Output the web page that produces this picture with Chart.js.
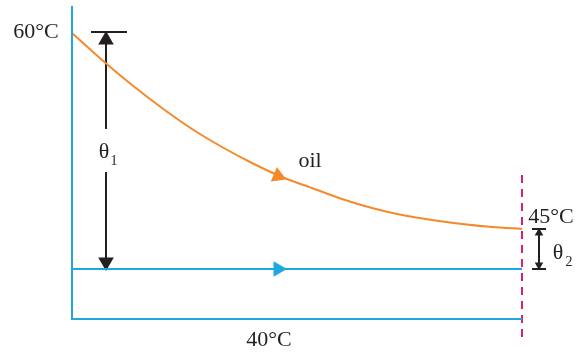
<!DOCTYPE html>
<html>
<head>
<meta charset="utf-8">
<script src="https://cdn.jsdelivr.net/npm/chart.js@4"></script>
<style>
  html, body { margin: 0; padding: 0; background: #fff; }
  #wrap { width: 579px; height: 354px; }
</style>
</head>
<body>
<div id="wrap"><canvas id="diagram" width="579" height="354"></canvas></div>
<script>
// oil temperature profile along the exchanger (schematic units)
const oilX = [0, 30, 60, 90, 120, 150, 180, 210, 240, 270, 300, 330, 360, 390, 420, 450];
const oilY = [286, 259, 234, 211, 190, 172, 156, 142, 131, 120, 111, 104, 99, 95, 92, 90];

// water line (40°C) and the two ends
const waterY = 50;
const exchangerLength = 450;
const hotIn = 286;   // 60°C
const hotOut = 90;   // 45°C

// labels
const labels = ["60°C", "45°C", "40°C", "oil"];

const blue = "#1ea7e1";
const orange = "#f5892b";
const pink = "#d81f7a";
const black = "#231f20";

function pts(xs, ys) {
    return xs.map((x, i) => ({ x: x, y: ys[i] }));
}

// small helper for plain line segments
function seg(points, color, width, extra) {
    return Object.assign({
        data: points,
        borderColor: color,
        backgroundColor: color,
        borderWidth: width,
        pointRadius: 0,
        showLine: true,
        tension: 0
    }, extra || {});
}

// arrowheads drawn as triangle points
function head(x, y, rot, size, color) {
    return {
        data: [{ x: x, y: y }],
        showLine: false,
        pointStyle: "triangle",
        pointRadius: size,
        pointRotation: rot,
        pointBackgroundColor: color,
        pointBorderColor: color,
        pointBorderWidth: 0
    };
}

const textPlugin = {
    id: "textLabels",
    afterDatasetsDraw(chart) {
        const ctx = chart.ctx;
        const xs = chart.scales.x, ys = chart.scales.y;
        ctx.save();
        ctx.fillStyle = black;
        ctx.textBaseline = "middle";
        ctx.textAlign = "center";
        ctx.font = "22px 'Liberation Serif', serif";
        ctx.fillText(labels[0], xs.getPixelForValue(-36), ys.getPixelForValue(hotIn + 1));
        ctx.fillText(labels[1], xs.getPixelForValue(479), ys.getPixelForValue(hotOut + 12));
        ctx.fillText(labels[2], xs.getPixelForValue(197), ys.getPixelForValue(-21));
        ctx.fillText(labels[3], xs.getPixelForValue(238), ys.getPixelForValue(158));

        // theta 1
        ctx.fillText("θ", xs.getPixelForValue(32), ys.getPixelForValue(167));
        ctx.font = "14px 'Liberation Serif', serif";
        ctx.fillText("1", xs.getPixelForValue(42), ys.getPixelForValue(158));
        // theta 2
        ctx.font = "22px 'Liberation Serif', serif";
        ctx.fillText("θ", xs.getPixelForValue(486), ys.getPixelForValue(66));
        ctx.font = "14px 'Liberation Serif', serif";
        ctx.fillText("2", xs.getPixelForValue(497), ys.getPixelForValue(57));
        ctx.restore();
    }
};

new Chart(document.getElementById("diagram"), {
    type: "scatter",
    data: {
        datasets: [
            // axes
            seg([{ x: 0, y: 313 }, { x: 0, y: 0 }, { x: exchangerLength, y: 0 }], blue, 2),
            // water
            seg([{ x: 0, y: waterY }, { x: exchangerLength, y: waterY }], blue, 2),
            // oil
            seg(pts(oilX, oilY), orange, 2, { cubicInterpolationMode: "monotone" }),
            // end of exchanger
            seg([{ x: exchangerLength, y: 144 }, { x: exchangerLength, y: -21 }], pink, 2, { borderDash: [8, 6] }),
            // theta 1 arrow
            seg([{ x: 19, y: hotIn + 1 }, { x: 55, y: hotIn + 1 }], black, 2),
            seg([{ x: 34, y: hotIn - 10 }, { x: 34, y: 190 }], black, 2),
            seg([{ x: 34, y: 147 }, { x: 34, y: waterY + 10 }], black, 2),
            head(34, hotIn - 7, 0, 9, black),
            head(34, waterY + 7, 180, 9, black),
            // theta 2 arrow
            seg([{ x: 460, y: hotOut }, { x: 474, y: hotOut }], black, 2),
            seg([{ x: 460, y: waterY }, { x: 474, y: waterY }], black, 2),
            seg([{ x: 467, y: hotOut - 4 }, { x: 467, y: waterY + 4 }], black, 2),
            head(467, hotOut - 4, 0, 5, black),
            head(467, waterY + 4, 180, 5, black),
            // flow arrows
            head(206, 143, 113, 9, orange),
            head(206, waterY, 90, 9, blue)
        ]
    },
    options: {
        responsive: false,
        animation: false,
        layout: { padding: 0, autoPadding: false },
        plugins: { legend: { display: false }, tooltip: { enabled: false } },
        scales: {
            x: { type: "linear", display: false, min: -72, max: 507 },
            y: { type: "linear", display: false, min: -35, max: 319 }
        }
    },
    plugins: [textPlugin]
});
</script>
</body>
</html>
